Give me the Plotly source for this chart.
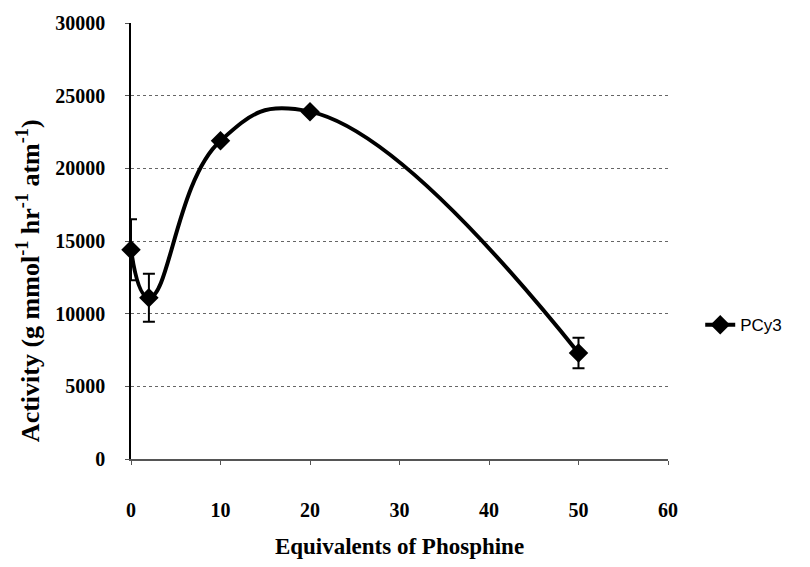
import plotly.graph_objects as go

equivalents = [0, 2, 10, 20, 50]
activity = [14400, 11100, 21900, 23900, 7300]
errors = [2100, 1650, 0, 0, 1050]
series_name = "PCy3"
x_ticks = [0, 10, 20, 30, 40, 50, 60]
y_ticks = [0, 5000, 10000, 15000, 20000, 25000, 30000]
y_title = "Activity (g mmol<sup>-1</sup> hr<sup>-1</sup> atm<sup>-1</sup>)"
x_title = "Equivalents of Phosphine"

serif = "Liberation Serif, Times New Roman, serif"

fig = go.Figure()
fig.add_trace(go.Scatter(
    x=equivalents, y=activity, name=series_name,
    mode="lines+markers",
    line=dict(color="black", width=4, shape="spline", smoothing=1.3),
    marker=dict(symbol="diamond", size=15, color="black"),
    error_y=dict(type="data", array=errors, visible=True, color="black", thickness=2, width=6),
    cliponaxis=False,
))

fig.add_annotation(
    text=y_title, textangle=-90, showarrow=False,
    xref="paper", yref="paper", x=-0.192, y=0.41,
    xanchor="center", yanchor="middle",
    font=dict(family=serif, size=26, color="black", weight="bold"),
)

fig.update_layout(
    width=810, height=567,
    margin=dict(l=131, r=142, t=21, b=93),
    paper_bgcolor="white", plot_bgcolor="white",
    showlegend=True,
    legend=dict(x=1.06, y=0.307, xanchor="left", yanchor="middle",
                font=dict(family="Liberation Sans, Arial, sans-serif", size=17, color="black"),
                itemwidth=30),
    xaxis=dict(
        range=[0, 60], tickvals=x_ticks, ticktext=[str(v) for v in x_ticks],
        showgrid=False, zeroline=False,
        showline=True, linecolor="#555", linewidth=1.5,
        ticks="outside", ticklen=4, tickcolor="#555",
        ticklabelstandoff=28,
        tickfont=dict(family=serif, size=20, color="black", weight="bold"),
        title=dict(text=x_title, standoff=18,
                   font=dict(family=serif, size=23, color="black", weight="bold")),
    ),
    yaxis=dict(
        range=[0, 30000], tickvals=y_ticks, ticktext=[str(v) for v in y_ticks],
        showgrid=True, gridcolor="#666", griddash="dot", gridwidth=1,
        zeroline=False,
        showline=True, linecolor="black", linewidth=1.5,
        ticks="outside", ticklen=4, tickcolor="#555",
        ticklabelstandoff=16,
        tickfont=dict(family=serif, size=20, color="black", weight="bold"),
    ),
)

fig.write_html("out.html")
